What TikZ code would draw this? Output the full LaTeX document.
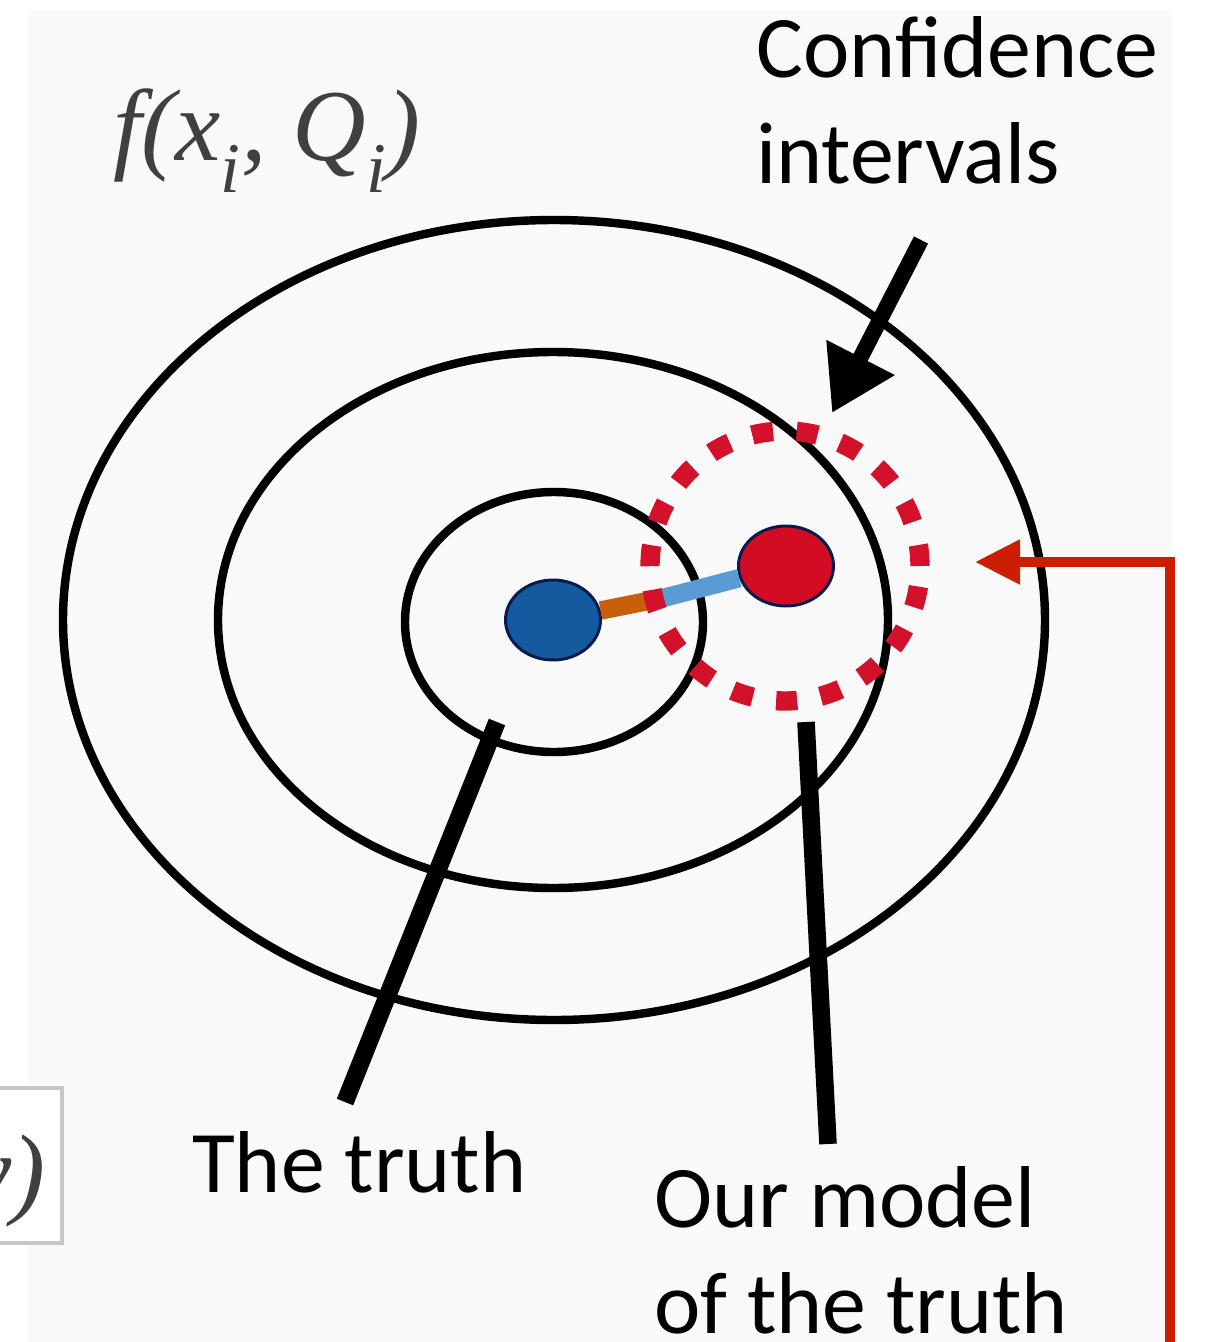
\documentclass[tikz,border=0pt]{standalone}
\usepackage{fontspec}
\setmainfont{Carlito}
\newfontfamily\formfont{Liberation Serif}
\usetikzlibrary{arrows.meta, shapes.geometric}
\definecolor{paper}{HTML}{F9F9F9}
\definecolor{truthblue}{HTML}{135B9E}
\definecolor{modelred}{HTML}{D20C22}
\definecolor{dotrim}{HTML}{0B1A4E}
\definecolor{linkorange}{HTML}{C8600A}
\definecolor{linkblue}{HTML}{5B9BD5}
\definecolor{cired}{HTML}{D3112B}
\definecolor{arrowred}{HTML}{CC1E00}
\begin{document}
\begin{tikzpicture}[x=0.02cm, y=-0.02cm,
    ring/.style={draw, line width=4.8pt},
    dot/.style={ellipse, draw=dotrim, line width=1.7pt, minimum width=1.9cm, minimum height=1.6cm},
    pointer/.style={line width=10pt},
    label/.style={font=\fontsize{50}{60}\selectfont, align=left},
    formula/.style={text=black!75, font=\formfont\itshape\fontsize{58}{64}\selectfont}]
  \useasboundingbox (0,0) rectangle (1225,1342);
  \fill[paper] (28,10) rectangle (1172,1342);

  % cut-off box from the neighbouring slide
  \begin{scope}
    \clip (0,0) rectangle (1225,1342);
    \draw[gray!45, fill=white, line width=2.8pt] (-30,1088) rectangle (62,1243);
    \node[formula, anchor=base east, inner sep=0pt] (xy) at (46,1205) {y)};
  \end{scope}

  \draw[ring] (554,620) ellipse [x radius=491, y radius=400];
  \draw[ring] (553,620) ellipse [x radius=335, y radius=268];
  \draw[ring] (554,622) ellipse [x radius=149, y radius=130];

  \node[dot, fill=truthblue] (truth) at (553,620) {};
  \node[dot, fill=modelred]  (model) at (786,566) {};
  \coordinate (mid) at (663,598);
  \draw[linkorange, line width=10.5pt] (truth) -- (mid);
  \draw[linkblue, line width=10.5pt] (mid) -- (model);

  \node[circle, draw=cired, line width=11pt, minimum size=5.4cm,
        dash pattern=on 12pt off 13.5pt] (ci) at (785,566) {};

  \node[formula, anchor=base west, inner sep=0pt] (func) at (113,160)
       {f(x\textsubscript{i}, Q\textsubscript{i})};
  \node[label, anchor=base west] (conf) at (750,183) {Confidence\\intervals};
  \node[label, anchor=base west] (truthlab) at (186,1192) {The truth};
  \node[label, anchor=base west] (modellab) at (648,1333) {Our model\\of the truth};

  \coordinate (conftail) at (921,240);
  \coordinate (conftip) at (832,413);
  \draw[line width=9pt, -{Triangle[length=1.25cm, width=1.45cm]}] (conftail) -- (conftip);

  \coordinate (truthtop) at (497,722);
  \coordinate (truthfoot) at (345,1102);
  \draw[pointer] (truthfoot) -- (truthtop);
  \coordinate (modeltop) at (806,722);
  \coordinate (modelfoot) at (828,1144);
  \draw[pointer] (modelfoot) -- (modeltop);

  \coordinate (redfoot) at (1170,1342);
  \coordinate (redtip) at (975,562);
  \draw[arrowred, line width=5.6pt, -{Triangle[length=0.9cm, width=0.85cm]}] (redfoot) |- (redtip);
\end{tikzpicture}
\end{document}
